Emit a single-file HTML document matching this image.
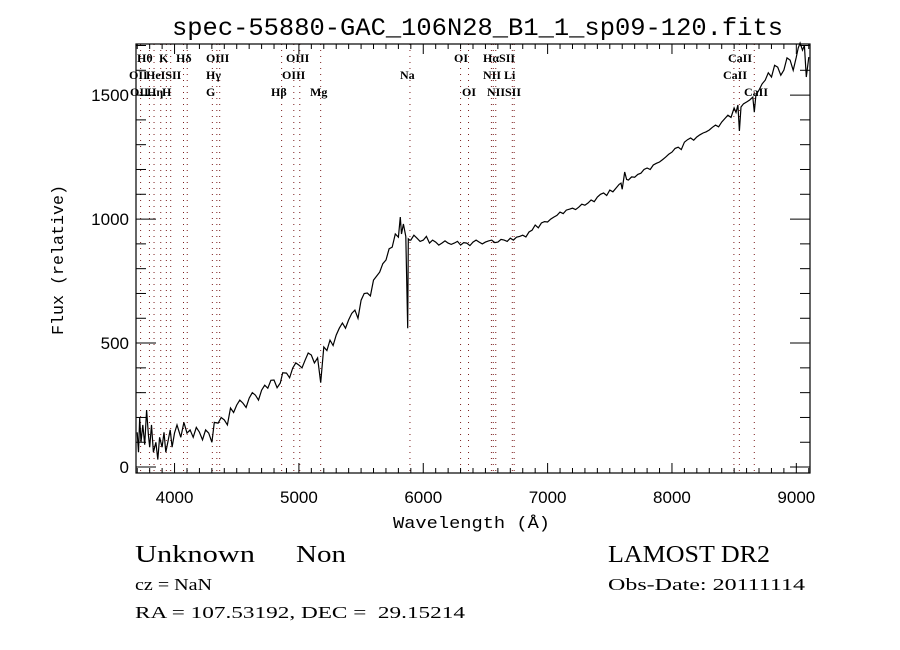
<!DOCTYPE html>
<html><head><meta charset="utf-8"><title>spec-55880</title>
<style>html,body{margin:0;padding:0;background:#fff}svg{display:block}</style></head>
<body>
<svg id="chart" width="900" height="650" viewBox="0 0 900 650" xmlns="http://www.w3.org/2000/svg">
<rect width="900" height="650" fill="#fff"/>
<text x="172" y="35" font-family="Liberation Mono, monospace" font-size="25" textLength="611" lengthAdjust="spacingAndGlyphs">spec-55880-GAC_106N28_B1_1_sp09-120.fits</text>
<g id="lines"></g>
<g id="linelabels" font-family="Liberation Serif, serif" font-size="12" font-weight="bold"></g>
<g id="axes"></g>
<path id="spec" fill="none" stroke="#000" stroke-width="1.2"/>
<text x="393" y="528" font-family="Liberation Mono, monospace" font-size="17" textLength="157" lengthAdjust="spacingAndGlyphs">Wavelength (Å)</text>
<text transform="translate(63,335) rotate(-90)" font-family="Liberation Mono, monospace" font-size="17" textLength="150" lengthAdjust="spacingAndGlyphs">Flux (relative)</text>
<g font-family="Liberation Serif, serif">
<text x="135" y="562" font-size="24" textLength="120" lengthAdjust="spacingAndGlyphs">Unknown</text>
<text x="296" y="562" font-size="24" textLength="50" lengthAdjust="spacingAndGlyphs">Non</text>
<text x="608" y="562" font-size="24" textLength="162" lengthAdjust="spacingAndGlyphs">LAMOST DR2</text>
<text x="135" y="590" font-size="17" textLength="77" lengthAdjust="spacingAndGlyphs">cz = NaN</text>
<text x="608" y="590" font-size="17" textLength="197" lengthAdjust="spacingAndGlyphs">Obs-Date: 20111114</text>
<text x="135" y="618" font-size="17" textLength="330" lengthAdjust="spacingAndGlyphs" xml:space="preserve">RA = 107.53192, DEC =  29.15214</text>
</g>
</svg>
<script>
const wave = [3700,3710,3720,3730,3745,3760,3775,3790,3800,3815,3830,3850,3865,3880,3900,3915,3930,3950,3965,3980,4000,4020,4050,4075,4100,4125,4150,4175,4200,4225,4250,4275,4300,4320,4350,4375,4400,4425,4450,4475,4500,4525,4550,4575,4600,4625,4650,4675,4700,4725,4750,4775,4800,4825,4850,4870,4900,4925,4950,4975,5000,5025,5050,5075,5100,5125,5150,5175,5200,5225,5250,5275,5300,5325,5350,5375,5400,5425,5450,5475,5500,5525,5550,5575,5600,5625,5650,5675,5700,5725,5750,5775,5800,5815,5825,5840,5860,5875,5880,5890,5900,5925,5950,5975,6000,6025,6050,6075,6100,6125,6150,6175,6200,6225,6250,6275,6300,6325,6350,6375,6400,6425,6450,6475,6500,6525,6550,6575,6600,6625,6650,6675,6700,6725,6750,6775,6800,6825,6850,6875,6900,6925,6950,6975,7000,7025,7050,7075,7100,7125,7150,7175,7200,7225,7250,7275,7300,7325,7350,7375,7400,7425,7450,7475,7500,7525,7550,7575,7590,7600,7620,7635,7650,7675,7700,7725,7750,7775,7800,7825,7850,7875,7900,7925,7950,7975,8000,8025,8050,8075,8100,8125,8150,8175,8200,8225,8250,8275,8300,8325,8350,8375,8400,8425,8450,8475,8500,8515,8530,8542,8555,8575,8600,8625,8650,8662,8675,8700,8725,8750,8775,8800,8825,8850,8875,8900,8925,8950,8975,9000,9015,9030,9050,9065,9080,9100];
const flux = [140,60,200,100,170,90,230,130,80,170,60,100,30,120,80,140,60,110,150,80,137,170,120,180,137,150,120,160,141,110,150,137,100,180,177,200,190,170,238,220,250,270,258,240,278,300,290,270,310,330,318,350,351,320,339,380,379,360,399,420,411,400,431,460,452,420,440,340,484,470,512,490,532,560,581,560,593,620,633,600,673,700,702,690,754,770,786,820,835,880,887,940,927,1008,940,980,930,560,920,915,915,935,923,910,915,930,903,915,907,895,903,912,903,898,903,910,895,905,903,893,907,915,907,900,907,912,915,905,907,918,915,910,923,915,927,930,935,928,948,955,976,965,984,990,988,1000,1008,1015,1028,1022,1036,1040,1044,1038,1048,1060,1056,1065,1077,1070,1089,1100,1105,1095,1117,1110,1125,1140,1145,1120,1190,1160,1157,1170,1169,1180,1185,1200,1206,1200,1218,1225,1230,1240,1250,1262,1270,1285,1290,1280,1310,1320,1327,1318,1331,1340,1347,1352,1359,1370,1379,1372,1391,1405,1419,1410,1448,1430,1460,1355,1452,1465,1472,1480,1492,1431,1500,1520,1545,1560,1590,1573,1620,1613,1580,1601,1650,1641,1600,1653,1690,1710,1681,1700,1573,1653];
const lineWaves = [3727,3798,3835,3889,3934,3969,4072,4102,4304,4340,4363,4861,4959,5007,5175,5893,6300,6364,6548,6563,6583,6716,6731,8498,8542,8662];
const xTicks = [4000,5000,6000,7000,8000,9000];
const yTicks = [0,500,1000,1500];

const X0=136,X1=810,Y0=44,Y1=473, WMIN=3690, WMAX=9110, FMIN=-24, FMAX=1706;
const sx = w => X0 + (w-WMIN)/(WMAX-WMIN)*(X1-X0);
const sy = f => Y1 - (f-FMIN)/(FMAX-FMIN)*(Y1-Y0);
const NS="http://www.w3.org/2000/svg";
function mk(tag, attrs, parent){const e=document.createElementNS(NS,tag);for(const k in attrs)e.setAttribute(k,attrs[k]);parent.appendChild(e);return e;}

const lg=document.getElementById('lines');
lineWaves.forEach(w=>{
  const l=mk('line',{x1:sx(w),x2:sx(w),y1:Y0,y2:Y1,stroke:'#7a1c1c','stroke-width':1,'stroke-dasharray':'1 5'},lg);
  
  
});
const labels=[["Hθ",137,62],["K",159,62],["Hδ",176,62],["OIII",206,62],["OIII",286,62],["OI",454,62],["HαSII",483,62],["CaII",728,62],
["OII",129,79],["HeISII",146,79],["Hγ",206,79],["OIII",282,79],["Na",400,79],["NII Li",483,79],["CaII",723,79],
["OII",130,96],["Hη",147,96],["H",162,96],["G",206,96],["Hβ",271,96],["Mg",310,96],["OI",462,96],["NIISII",487,96],["CaII",744,96]];
const ll=document.getElementById('linelabels');
labels.forEach(a=>{
  const t=mk('text',{x:a[1],y:a[2]},ll);t.textContent=a[0];
  
  
});

const ax=document.getElementById('axes');
const fr=mk('rect',{x:X0,y:Y0,width:X1-X0,height:Y1-Y0,fill:'none',stroke:'#000','stroke-width':1.2},ax);


for(let w=3700;w<=9100;w+=100){
  const major=(w%1000===0), len=major?10:5;
  mk('line',{x1:sx(w),x2:sx(w),y1:Y1,y2:Y1-len,stroke:'#000'},ax);
  mk('line',{x1:sx(w),x2:sx(w),y1:Y0,y2:Y0+len,stroke:'#000'},ax);
}
for(let f=0;f<=1700;f+=100){
  const major=(f%500===0), len=major?20:10;
  mk('line',{x1:X0,x2:X0+len,y1:sy(f),y2:sy(f),stroke:'#000'},ax);
  mk('line',{x1:X1,x2:X1-len,y1:sy(f),y2:sy(f),stroke:'#000'},ax);
}
xTicks.forEach(w=>{
  const t=mk('text',{x:sx(w),y:503,'text-anchor':'middle','font-family':'Liberation Sans, sans-serif','font-size':17},ax);
  t.textContent=w;
  
  
});
yTicks.forEach(f=>{
  const t=mk('text',{x:129,y:sy(f)+6,'text-anchor':'end','font-family':'Liberation Sans, sans-serif','font-size':17},ax);
  t.textContent=f;
  
  
});

let d='';
wave.forEach((w,i)=>{d+=(i?'L':'M')+sx(w).toFixed(1)+','+sy(flux[i]).toFixed(1);});
document.getElementById('spec').setAttribute('d',d);
</script>
</body></html>
